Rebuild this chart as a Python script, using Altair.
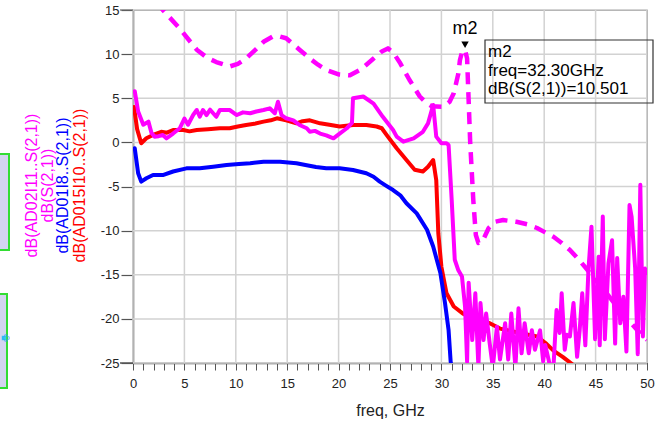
import altair as alt
import pandas as pd

# ---------------- data ----------------
sim_freq = [0.0, 1.0, 2.0, 2.9, 4.5, 6.2, 7.2, 8.1, 9.4, 10.2, 11.0, 12.0, 12.7, 13.6, 14.3,
            14.9, 16.2, 17.2, 18.0, 18.8, 20.0, 21.1, 22.2, 23.4, 24.2, 24.8, 25.3, 26.0,
            26.9, 27.9, 28.5, 29.05, 30.2, 30.8, 31.2, 31.65, 31.8, 32.0, 32.3, 32.5, 32.8,
            33.1, 33.35, 33.6, 34.0, 34.6, 35.2, 36.0, 37.3, 38.4, 39.3, 40.1, 40.9, 41.7,
            42.5, 43.3, 44.1, 45.0, 46.0, 47.0, 48.0, 49.0, 50.0]
sim_db = [19.5, 18.0, 16.4, 15.0, 12.96, 10.5, 9.6, 9.1, 8.6, 8.9, 9.5, 10.6, 11.4, 12.0, 12.0,
          11.8, 10.5, 9.5, 8.8, 8.2, 7.7, 7.6, 8.3, 9.5, 10.3, 10.65, 10.2, 8.96,
          7.07, 5.2, 4.5, 4.1, 4.04, 4.6, 5.56, 7.8, 9.3, 10.2, 10.5, 9.5, 0.0,
          -6.5, -10.5, -11.4, -11.2, -9.7, -9.0, -8.8, -9.0, -9.3, -9.7, -10.2, -10.7, -11.4,
          -12.2, -13.2, -14.3, -15.6, -17.0, -18.5, -19.9, -21.2, -22.4]

ad02_freq = [0.17, 0.5, 1.0, 1.5, 1.8, 2.1, 2.5, 2.9, 3.25, 3.9, 4.55, 5.0, 5.35, 5.85, 6.2,
             6.5, 6.8, 7.15, 7.5, 8.1, 8.45, 9.4, 10.1, 10.7, 11.4, 12.0, 12.7, 13.3, 13.8,
             14.1, 14.45, 14.9, 15.6, 16.2, 16.9, 17.2, 17.7, 18.2, 18.8, 19.5, 20.1, 20.8,
             21.3, 21.4, 22.4, 23.4, 24.3, 25.3, 25.65, 26.3, 27.3, 28.2, 28.7, 29.2, 29.5,
             30.0, 30.5, 30.7, 31.0, 31.3, 31.65, 32.0,
             32.3, 32.5, 32.65, 33.0, 33.3, 33.6, 33.8, 34.1, 34.35, 34.7, 35.0, 35.4, 35.7,
             36.2, 36.5, 36.8, 37.2, 37.5, 37.8, 38.1, 38.5, 38.8, 39.1, 39.6, 39.9, 40.1,
             40.6, 40.9, 41.2, 41.5, 41.7, 42.0, 42.2, 42.5, 42.85, 43.2, 43.45, 43.7, 44.0,
             44.3, 44.6, 44.95, 45.3, 45.4, 45.7, 45.9, 46.25, 46.6, 46.9, 47.1, 47.4, 47.7,
             48.0, 48.3, 48.5, 48.85, 49.1, 49.35, 49.6, 49.8, 50.0]
ad02_db = [5.8, 3.5, 2.0, 2.35, 1.06, 0.65, 0.7, 0.84, 0.46, 1.0, 1.6, 2.7, 2.0, 3.1, 3.67,
           2.9, 3.67, 3.1, 3.7, 2.9, 3.67, 3.67, 3.1, 3.4, 3.3, 3.5, 3.67, 3.86, 3.3,
           4.6, 3.1, 2.73, 2.5, 1.97, 1.6, 1.2, 1.3, 1.0, 0.8, 0.46, 1.0, 1.6,
           2.2, 5.0, 5.2, 4.4, 2.9, 1.4, 0.65, 0.08, 0.46, 1.2, 2.15, 4.24, 0.65,
           -0.1, -0.1, -0.3, -6.5, -13.3, -14.5, -15.2,
           -18.6, -24.85, -15.9, -22.4, -17.1, -25.5, -18.2, -22.4, -19.4, -22.8, -25.5, -20.9, -24.6,
           -20.5, -24.6, -19.4, -25.5, -18.8, -23.9, -20.5, -23.9, -21.3, -23.5, -21.3, -24.8, -22.96,
           -25.5, -25.5, -19.0, -21.6, -17.1, -23.5, -21.8, -22.0, -18.2, -24.3, -21.3, -17.1, -23.0,
           -14.5, -9.55, -22.3, -12.95, -23.0, -8.4, -22.3, -13.7, -11.1, -22.8, -13.1, -20.5, -17.5,
           -23.7, -7.1, -8.4, -14.3, -24.0, -4.8, -22.0, -14.3, -14.8]

ad01_freq = [0.17, 0.5, 0.8, 1.3, 1.95, 2.9, 3.9, 5.2, 6.5, 7.8, 9.1, 10.3, 11.4, 12.7, 14.3,
             15.9, 16.9, 17.8, 18.8, 20.1, 21.4, 22.7, 23.4, 24.0, 24.6, 25.3, 26.0, 26.6,
             27.6, 28.6, 29.2, 29.9, 30.35, 30.7, 30.9, 31.1]
ad01_db = [-0.67, -3.5, -4.45, -4.07, -3.7, -3.7, -3.3, -2.94, -2.94, -2.76, -2.56, -2.45, -2.37,
           -2.19, -2.19, -2.37, -2.6, -2.8, -2.94, -2.94, -3.13, -3.5, -3.9, -4.45, -4.9, -5.4,
           -6.0, -6.9, -8.05, -9.9, -11.8, -14.8, -18.2, -21.3, -24.85, -26.0]

ad015_freq = [0.1, 0.4, 0.8, 1.3, 1.95, 2.75, 3.3, 3.9, 4.9, 5.5, 6.2, 7.3, 8.45, 9.4, 10.2,
              11.0, 11.8, 12.7, 13.4, 14.0, 14.9, 15.9, 16.5, 17.2, 18.2, 19.1, 20.1, 21.4,
              22.7, 23.7, 24.2, 24.7, 25.65, 26.6, 27.4, 28.2, 28.7, 29.2, 29.5, 29.7, 30.0,
              30.5, 31.2, 32.1, 33.4, 34.7, 35.7, 37.6, 39.3, 40.2, 40.9, 41.8, 42.8]
ad015_db = [4.0, 1.5, -0.1, 0.46, 0.84, 1.2, 1.1, 1.4, 1.4, 1.25, 1.4, 1.5, 1.6, 1.6, 1.8,
            1.97, 2.1, 2.35, 2.5, 2.73, 2.5, 2.16, 2.4, 2.5, 2.16, 2.0, 1.8, 1.97,
            1.97, 1.8, 1.6, 0.8, -0.67, -2.0, -3.1, -3.3, -2.76, -2.0, -4.3, -10.3, -14.1,
            -17.1, -18.6, -19.4, -20.1, -20.5, -21.1, -21.6, -22.0, -22.8, -23.6, -24.3, -25.2]

x_major = list(range(0, 51, 5))
x_minor = list(range(0, 51))
y_major = list(range(-25, 16, 5))

legend_labels = ["dB(AD02I11..S(2,1))", "dB(S(2,1))", "dB(AD01I8..S(2,1))", "dB(AD015I10..S(2,1))"]
legend_colors = ["#ff00ff", "#ff00ff", "#0000ff", "#ff0000"]

marker_name = "m2"
marker_freq = 32.30
marker_db = 10.501
marker_lines = ["m2", "freq=32.30GHz", "dB(S(2,1))=10.501"]

FONT = "Liberation Sans"
W, H = 514, 353

xs = alt.Scale(domain=[0, 50], nice=False, zero=False)
ys = alt.Scale(domain=[-25, 15], nice=False, zero=False)

GRID = "#d2d2d2"
AX = "#555555"

xa = alt.Axis(
    values=x_minor, grid=False, tickSize=7, tickColor=AX, tickWidth=1,
    domainColor=AX, domainWidth=1.5,
    labelExpr="datum.value % 5 === 0 ? datum.label : ''",
    labelOverlap=False, labelFlush=False, labelFont=FONT, labelFontSize=13,
    labelColor="#222222", labelPadding=7,
    title="freq, GHz", titleFont=FONT, titleFontSize=16, titleFontWeight="normal",
    titleColor="#222222", titlePadding=12)
ya = alt.Axis(
    values=y_major, grid=False, tickSize=12, tickColor=AX, tickWidth=1.2,
    domainColor=AX, domainWidth=1.5,
    labelExpr="replace(datum.label, '\u2212', '-')",
    labelFont=FONT, labelFontSize=13, labelColor="#222222", labelPadding=2,
    title=None)

xgrid = alt.Chart(pd.DataFrame({"f": x_major})).mark_rule(color=GRID, strokeWidth=1.5).encode(
    x=alt.X("f:Q", scale=xs, axis=xa)
)
ygrid = alt.Chart(pd.DataFrame({"v": y_major})).mark_rule(color=GRID, strokeWidth=1.5).encode(
    y=alt.Y("v:Q", scale=ys, axis=ya)
)


def series(freq, db, color, dash=None, width=4):
    df = pd.DataFrame({"f": freq, "db": db})
    kw = dict(color=color, strokeWidth=width, clip=True, strokeJoin="round")
    if dash:
        kw["strokeDash"] = dash
        kw["strokeCap"] = "butt"
    else:
        kw["strokeCap"] = "round"
    return alt.Chart(df).mark_line(**kw).encode(
        x=alt.X("f:Q", scale=xs, axis=xa),
        y=alt.Y("db:Q", scale=ys, axis=ya),
    )


sim = series(sim_freq, sim_db, "#ff00ff", dash=[12, 8], width=4.5)
red = series(ad015_freq, ad015_db, "#ff0000")
blue = series(ad01_freq, ad01_db, "#0000ff")
mag = series(ad02_freq, ad02_db, "#ff00ff")

mdf = pd.DataFrame({"f": [marker_freq], "db": [marker_db], "name": [marker_name]})
mtri = alt.Chart(mdf).mark_point(shape="triangle-down", filled=True, color="black",
                                 size=55, opacity=1, yOffset=-5).encode(
    x=alt.X("f:Q", scale=xs, axis=xa), y=alt.Y("db:Q", scale=ys, axis=ya))
mlabel = alt.Chart(mdf).mark_text(font=FONT, fontSize=18, color="black", dy=-21).encode(
    x=alt.X("f:Q", scale=xs, axis=xa), y=alt.Y("db:Q", scale=ys, axis=ya), text="name:N")

one = pd.DataFrame({"a": [0]})
box = alt.Chart(one).mark_rect(fill=None, stroke="#333333", strokeWidth=1.2).encode(
    x=alt.value(352), x2=alt.value(520), y=alt.value(30), y2=alt.value(93))

box_texts = []
for i, line in enumerate(marker_lines):
    box_texts.append(
        alt.Chart(pd.DataFrame({"t": [line]})).mark_text(
            font=FONT, fontSize=17, color="black", align="left", baseline="alphabetic").encode(
            x=alt.value(355), y=alt.value(47 + 18.5 * i), text="t:N"))

# rotated legend labels at the left (all centred on the same height)
leg_x = [-101, -85, -70, -53]
leg_layers = []
for lx, lab, col in zip(leg_x, legend_labels, legend_colors):
    leg_layers.append(
        alt.Chart(pd.DataFrame({"t": [lab]})).mark_text(
            font=FONT, fontSize=16, color=col, angle=270, align="center", baseline="middle").encode(
            x=alt.value(lx), y=alt.value(175.5), text="t:N"))

# frame extensions and schematic fragments on the far left
ext_top = alt.Chart(one).mark_rule(color="#666666", strokeWidth=1.2).encode(
    x=alt.value(-13), x2=alt.value(0), y=alt.value(0), y2=alt.value(0))
ext_bot = alt.Chart(one).mark_rule(color=AX, strokeWidth=1.5).encode(
    x=alt.value(-13), x2=alt.value(0), y=alt.value(H), y2=alt.value(H))
gbox1 = alt.Chart(one).mark_rect(fill="#d4d4f0", stroke="#33dd33", strokeWidth=2).encode(
    x=alt.value(-134), x2=alt.value(-124), y=alt.value(144), y2=alt.value(240))
gbox2 = alt.Chart(one).mark_rect(fill="#d4d4f0", stroke="#33dd33", strokeWidth=2).encode(
    x=alt.value(-134), x2=alt.value(-126), y=alt.value(284), y2=alt.value(378))
pin2 = alt.Chart(one).mark_point(shape="square", filled=True, color="#33ccee", size=20, opacity=1).encode(
    x=alt.value(-129), y=alt.value(328))
pin = alt.Chart(one).mark_point(shape="cross", color="#3399ff", size=40, strokeWidth=1).encode(
    x=alt.value(-127), y=alt.value(328))

chart = alt.layer(
    xgrid, ygrid, sim, red, blue, mag, mtri, mlabel, box, *box_texts, *leg_layers,
    ext_top, ext_bot, gbox1, gbox2, pin2, pin
).properties(
    width=W, height=H,
    autosize=alt.AutoSizeParams(type="none"),
    padding={"left": 133, "top": 10, "right": 17, "bottom": 62},
    background="white",
).configure_view(stroke="#666666", strokeWidth=1.2)

chart.save("out.html", embed_options={"renderer": "svg", "actions": False})
